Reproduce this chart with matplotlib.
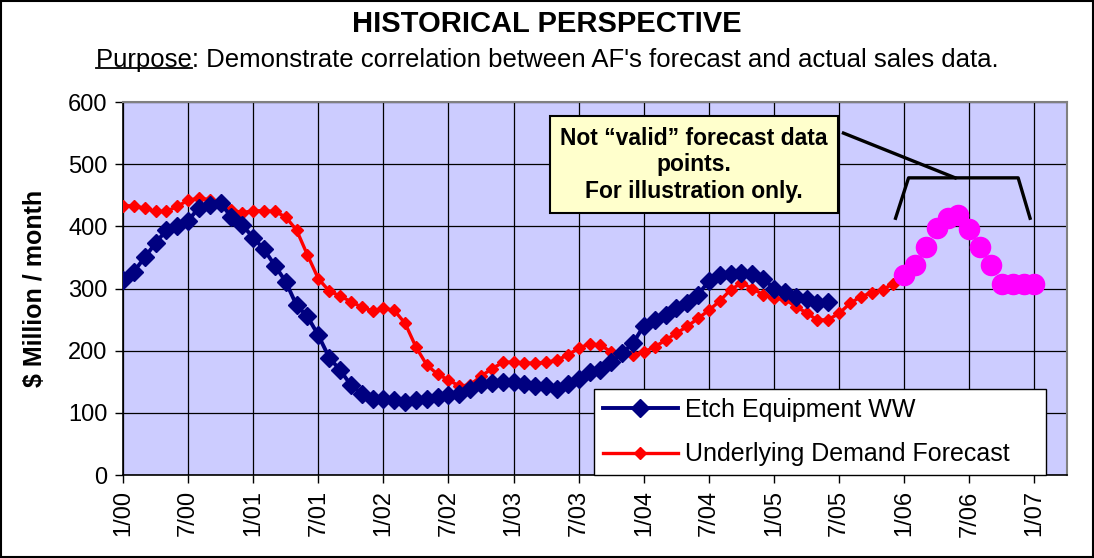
import numpy as np
import matplotlib
matplotlib.use('Agg')
import matplotlib.pyplot as plt
from matplotlib.lines import Line2D
from matplotlib.patches import Rectangle
from matplotlib.transforms import IdentityTransform

plt.rcParams['font.family'] = ['Liberation Sans', 'DejaVu Sans']

# monthly values, month 0 = 1/00
etch_ww = [313, 327, 350, 373, 394, 400, 409, 430, 434, 437, 415, 402,
           382, 363, 337, 311, 273, 255, 225, 189, 169, 145, 131, 123,
           123, 121, 118, 120, 122, 126, 128, 131, 139, 147, 148, 150,
           150, 147, 143, 143, 139, 147, 155, 166, 169, 182, 196, 212,
           240, 249, 258, 268, 276, 290, 312, 322, 324, 325, 324, 316,
           300, 295, 287, 283, 276, 278]
demand_fc = [433, 433, 429, 424, 424, 432, 442, 445, 443, 434, 426, 422,
             425, 425, 424, 415, 394, 354, 316, 296, 288, 279, 270, 264,
             268, 265, 244, 206, 177, 162, 153, 143, 145, 159, 171, 181,
             182, 180, 180, 181, 185, 193, 204, 211, 209, 198, 193, 193,
             198, 206, 217, 228, 239, 252, 265, 280, 298, 309, 300, 290,
             284, 283, 271, 261, 249, 250, 260, 276, 287, 293, 298, 308]
illustr = [322, 338, 366, 397, 413, 418, 395, 367, 338, 308, 308, 308, 308]

tick_labels = ['1/00', '7/00', '1/01', '7/01', '1/02', '7/02', '1/03', '7/03',
               '1/04', '7/04', '1/05', '7/05', '1/06', '7/06', '1/07']

x_etch = np.arange(len(etch_ww))
x_dem = np.arange(len(demand_fc))
x_ill = np.arange(len(demand_fc), len(demand_fc) + len(illustr))

fig = plt.figure(figsize=(10.94, 5.58), dpi=100)
ax = fig.add_axes([0.1124, 0.1487, 0.8629, 0.6685])
ax.set_facecolor('#CCCCFF')

ax.plot(x_etch, etch_ww, color='#000080', lw=2.8, marker='D', ms=9.5,
        label='Etch Equipment WW', zorder=4)
# red line runs into the first illustration point
ax.plot(np.append(x_dem, x_ill[0]), demand_fc + illustr[:1], color='#FF0000',
        lw=2.4, marker='D', ms=6.5, markevery=list(range(len(demand_fc))),
        label='Underlying Demand Forecast', zorder=3)
ax.plot(x_ill, illustr, linestyle='none', marker='o', ms=14.5,
        color='#FF00FF', zorder=5)

ax.set_xlim(0, 87)
ax.set_ylim(0, 600)
ax.set_xticks(np.arange(0, 85, 6))
ax.set_xticklabels(tick_labels, rotation=90)
ax.set_yticks(np.arange(0, 601, 100))
ax.tick_params(axis='both', labelsize=17, direction='out', length=6,
               width=1, color='black', pad=5)
ax.grid(True, color='black', lw=0.9)
ax.set_axisbelow(True)
for s in ['left', 'bottom']:
    ax.spines[s].set_color('black')
    ax.spines[s].set_linewidth(1.2)
for s in ['top', 'right']:
    ax.spines[s].set_color('#808080')
    ax.spines[s].set_linewidth(1.5)

leg = ax.legend(loc='lower left', bbox_to_anchor=(0.499, 0.0, 0.479, 0.233),
                mode='expand', borderaxespad=0, fontsize=18, fancybox=False,
                framealpha=1, edgecolor='black', handlelength=3.0,
                handletextpad=0.3, borderpad=0.35, labelspacing=0.83)
leg.get_frame().set_linewidth(1.0)
leg.set_zorder(6)

# annotation box and bracket
ax.text(52.6, 499, 'Not \u201cvalid\u201d forecast data\npoints.\nFor illustration only.',
        ha='center', va='center', fontsize=16.5, fontweight='bold',
        multialignment='center', linespacing=1.2, zorder=7,
        bbox=dict(boxstyle='square,pad=0.45', fc='#FFFFCC', ec='black', lw=1.5))
ax.plot([66.4, 76.7], [550, 478], color='black', lw=2.4, clip_on=False, zorder=6)
ax.plot([71.2, 72.4, 82.5, 83.6], [413, 478, 478, 413], color='black', lw=2.4,
        clip_on=False, zorder=6)

fig.text(0.5, 0.957, 'HISTORICAL PERSPECTIVE', ha='center', va='center',
         fontsize=21, fontweight='bold')
sub = fig.text(0.5, 0.8925,
               "Purpose: Demonstrate correlation between AF's forecast and actual sales data.",
               ha='center', va='center', fontsize=18.5)
fig.text(0.032, 0.483, '$ Million / month', rotation=90, ha='center',
         va='center', fontsize=18, fontweight='bold')

# underline "Purpose"
fig.canvas.draw()
r = fig.canvas.get_renderer()
bb = sub.get_window_extent(r)
tmp = fig.text(0, 0, 'Purpose', fontsize=18.5)
pw = tmp.get_window_extent(r).width
tmp.remove()
uy = bb.y0 + 3.5
fig.add_artist(Line2D([bb.x0, bb.x0 + pw], [uy, uy], color='black', lw=1.3,
                      transform=IdentityTransform()))

fig.add_artist(Rectangle((0.001, 0.001), 0.998, 0.997, transform=fig.transFigure,
                         fill=False, ec='black', lw=1.5))

fig.savefig('out.png', dpi=100)
